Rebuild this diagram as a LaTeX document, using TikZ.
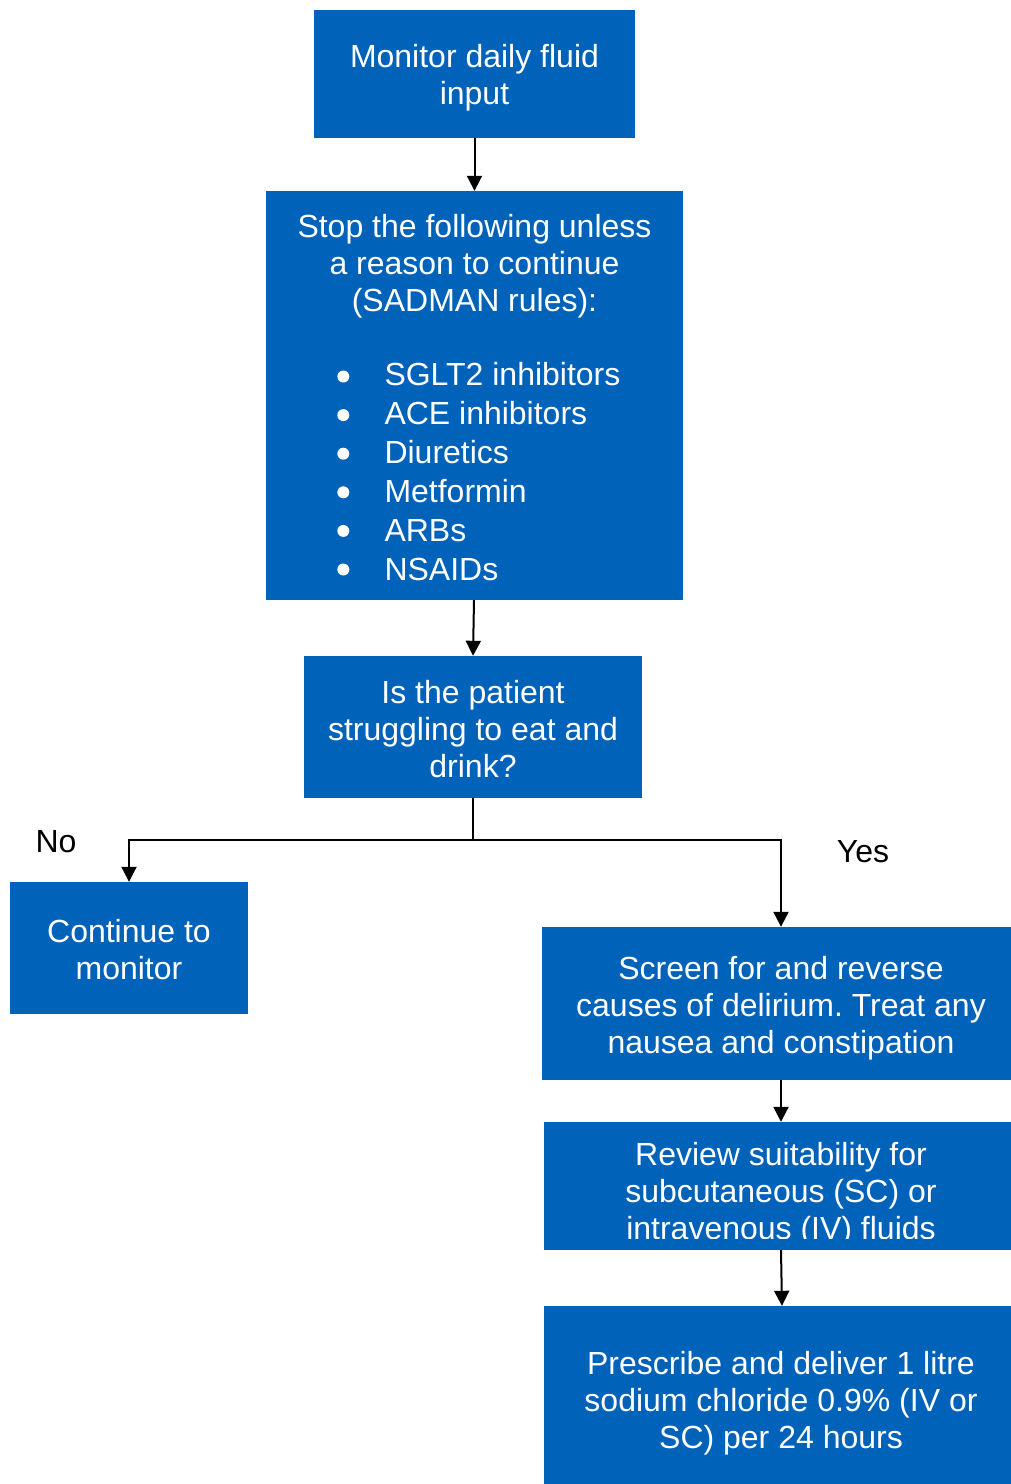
\documentclass[tikz,border=0pt]{standalone}
\usepackage{fontspec}
\setmainfont{Liberation Sans}
\usetikzlibrary{arrows.meta}
\definecolor{boxblue}{RGB}{0,98,185}
\tikzset{
  box/.style={fill=boxblue, draw=none, inner sep=0pt},
  txt/.style={inner sep=0pt, text=white, align=center, font=\fontsize{32}{37}\selectfont},
  lbl/.style={inner sep=0pt, text=black, font=\fontsize{32}{37}\selectfont},
  conn/.style={line width=2pt, draw=black, -{Triangle[length=15pt,width=15pt]}},
  plain/.style={line width=2pt, draw=black},
  bulletdot/.style={fill=white}
}
\newcommand{\bul}[1]{\makebox[276pt][l]{\hspace*{48pt}#1}}
\frenchspacing
\begin{document}
\begin{tikzpicture}[x=1pt,y=-1pt]
\useasboundingbox (0,0) rectangle (1011,1484);
% boxes
\node[box, minimum width=321pt, minimum height=128pt] (mon) at (474.5,74) {};
\node[box, minimum width=417pt, minimum height=409pt] (stop) at (474.5,395.5) {};
\node[box, minimum width=338pt, minimum height=142pt] (q) at (473,727) {};
\node[box, minimum width=238pt, minimum height=132pt] (cont) at (129,948) {};
\node[box, minimum width=469pt, minimum height=153pt] (scr) at (776.5,1003.5) {};
\node[box, minimum width=467pt, minimum height=128pt] (rev) at (777.5,1186) {};
\node[box, minimum width=467pt, minimum height=178pt] (pre) at (777.5,1395) {};
% texts
\node[txt] (mon-t) at (474.5,78) {Monitor daily fluid\\input};
\node[txt] (stop-t) at (474.5,397.5)
  {Stop the following unless\\a reason to continue\\(SADMAN rules):\\[37pt]
   \bul{SGLT2 inhibitors}\\[2pt]\bul{ACE inhibitors}\\[2pt]\bul{Diuretics}\\[2pt]\bul{Metformin}\\[2pt]\bul{ARBs}\\[2pt]\bul{NSAIDs}};
\foreach \i in {0,...,5}
  \fill[bulletdot] (343.3,{376.5+38.6*\i}) circle (6pt);
\node[txt] (q-t) at (473,729.5) {Is the patient\\struggling to eat and\\drink?};
\node[txt] (cont-t) at (129,950) {Continue to\\monitor};
\node[txt] (scr-t) at (781,1008) {Screen for and reverse\\causes of delirium. Treat any\\nausea and constipation};
\begin{scope}
  \clip (544,1122) rectangle (1011,1238);
  \node[txt] (rev-t) at (781,1194) {Review suitability for\\subcutaneous (SC) or\\intravenous (IV) fluids};
\end{scope}
\node[txt] (pre-t) at (781,1403.5) {Prescribe and deliver 1 litre\\sodium chloride 0.9\% (IV or\\SC) per 24 hours};
\node[lbl] (no) at (56,842) {No};
\node[lbl] (yes) at (863,852) {Yes};
% connectors
\coordinate (split) at (473,840);
\draw[conn] (mon.south) -- (stop.north);
\draw[conn] ([xshift=-0.5pt]stop.south) -- (q.north);
\draw[plain] (q.south) -- (split);
\draw[conn] (split) -| (cont.north);
\draw[conn] (split) -| ([xshift=4.5pt]scr.north);
\draw[conn] ([xshift=4.5pt]scr.south) -- ([xshift=3.5pt]rev.north);
\draw[conn] ([xshift=3.5pt]rev.south) -- ([xshift=4.5pt]pre.north);
\end{tikzpicture}
\end{document}
